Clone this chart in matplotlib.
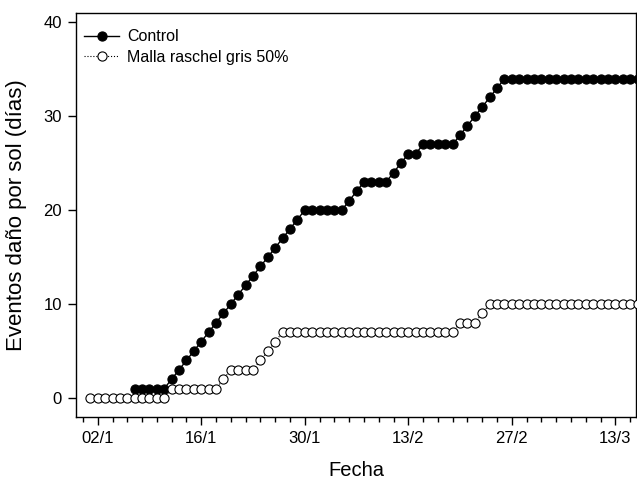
import matplotlib
matplotlib.use("Agg")
import matplotlib.pyplot as plt
import numpy as np
import pandas as pd

plt.rcParams['font.family'] = ['Liberation Sans', 'DejaVu Sans']

dates = pd.date_range('2019-01-01', '2019-03-16', freq='D')
control = [np.nan]*6 + [1]*5 + [2, 3, 4, 5, 6, 7, 8, 9, 10, 11, 12, 13, 14, 15, 16, 17, 18, 19, 20] \
    + [20]*5 + [21, 22] + [23]*4 + [24, 25, 26, 26] + [27]*5 + [28, 29, 30, 31, 32, 33] + [34]*19
malla = [0]*11 + [1]*7 + [2] + [3]*4 + [4, 5, 6] + [7]*24 + [8]*3 + [9] + [10]*21

labels = ['Control', 'Malla raschel gris 50%']
xtick_labels = ['02/1', '16/1', '30/1', '13/2', '27/2', '13/3']

fig = plt.figure(figsize=(6.37, 4.84), dpi=100)
ax = fig.add_axes([76/637, 1-416.7/484, 560/637, (416.7-13)/484])

ax.plot(dates, control, '-', color='black', lw=1, marker='o', ms=6.6,
        mfc='black', mec='black', mew=0.8, label=labels[0], zorder=3)
ax.plot(dates, malla, ':', color='black', lw=0.8, marker='o', ms=6.6,
        mfc='white', mec='black', mew=0.8, label=labels[1], zorder=4)

start = pd.Timestamp('2019-01-02')
major = [start + pd.Timedelta(days=14*k) for k in range(6)]
minor = [pd.Timestamp('2018-12-31') + pd.Timedelta(days=2*k) for k in range(39)]
ax.set_xticks(major)
ax.set_xticklabels(xtick_labels)
ax.set_xticks(minor, minor=True)
ax.set_xlim(pd.Timestamp('2018-12-30') + pd.Timedelta(hours=1.5),
            pd.Timestamp('2019-03-15') + pd.Timedelta(hours=19))
ax.set_ylim(-2, 41)
ax.set_yticks([0, 10, 20, 30, 40])

ax.tick_params(axis='both', which='major', direction='out', length=6, width=1,
               labelsize=12, pad=4)
ax.tick_params(axis='x', which='minor', direction='out', length=3.5, width=1)
for s in ax.spines.values():
    s.set_linewidth(1)

ax.set_xlabel('Fecha', fontsize=14.5, labelpad=11)
ax.set_ylabel('Eventos daño por sol (días)', fontsize=16, labelpad=12)

leg = ax.legend(loc='upper left', frameon=False, fontsize=11.5, handlelength=2.2,
                borderaxespad=0.0, handletextpad=0.5, labelspacing=0.35,
                bbox_to_anchor=(0.003, 0.975))

fig.savefig('out.png', dpi=100)
